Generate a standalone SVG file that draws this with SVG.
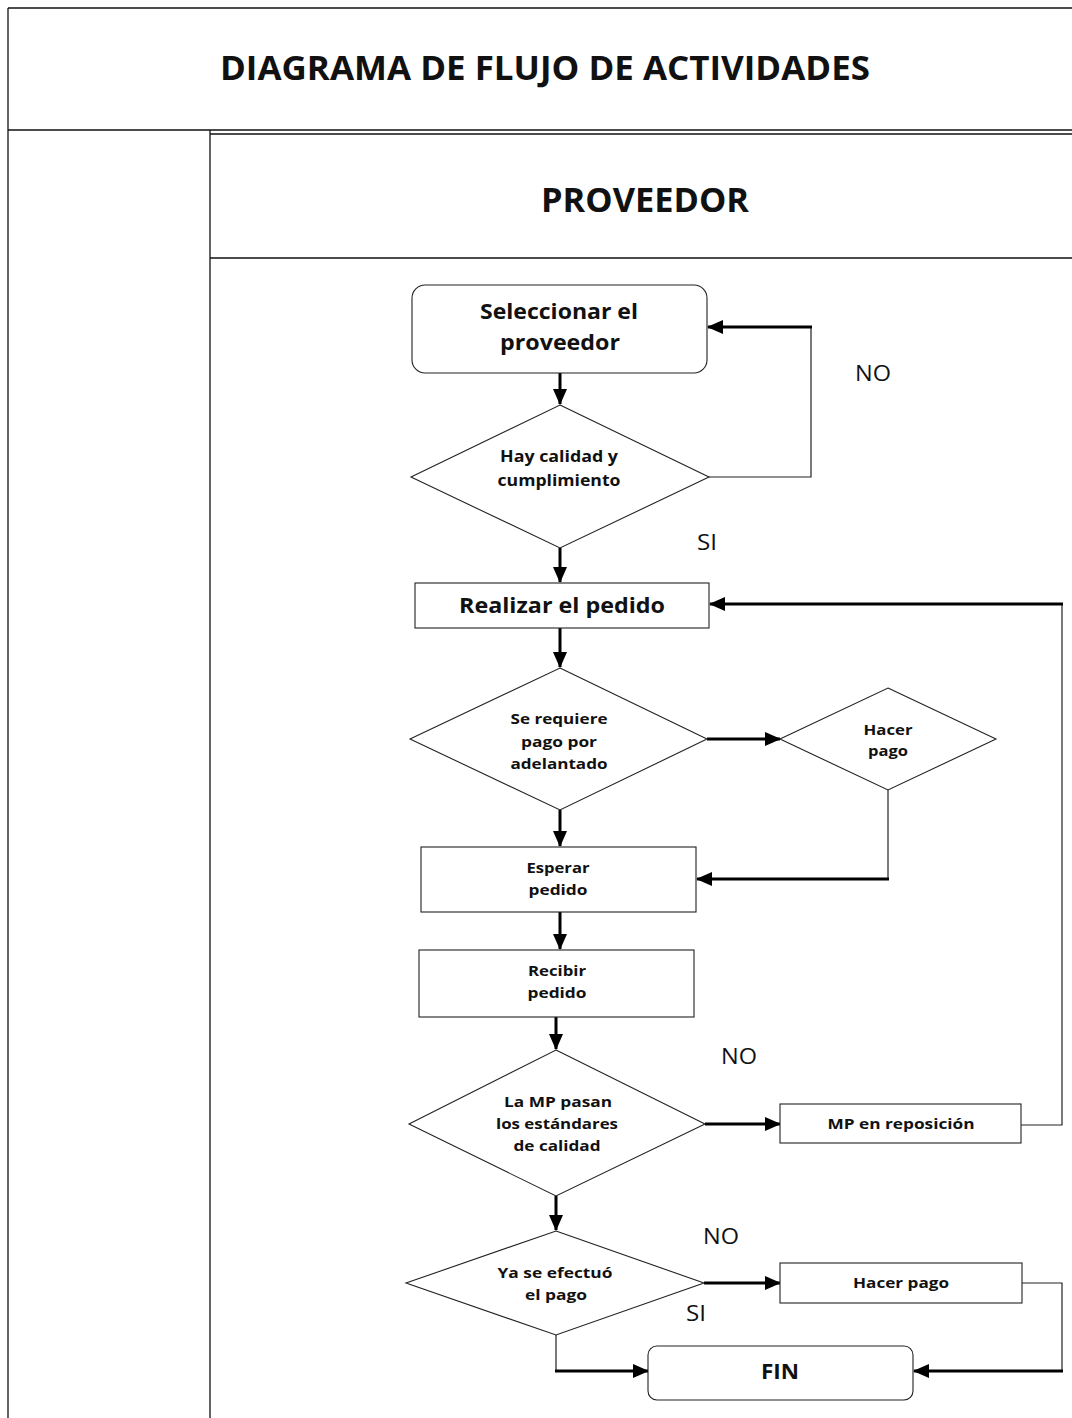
<svg xmlns="http://www.w3.org/2000/svg" width="1072" height="1418" viewBox="0 0 1072 1418">
<style>
.frame{stroke:#111;stroke-width:1.3;fill:none}
.node{fill:#fff;stroke:#222;stroke-width:1.1}
.t{font-family:"Open Sans","Liberation Sans",sans-serif;font-weight:bold;fill:#111;text-anchor:middle}
.lbl{font-family:"Open Sans","Liberation Sans",sans-serif;fill:#111;text-anchor:middle;font-size:21px}
.thick{stroke:#000;stroke-width:3;fill:none}
.thin{stroke:#222;stroke-width:1.2;fill:none}
</style>
<defs>
<marker id="ah" markerUnits="userSpaceOnUse" markerWidth="16" markerHeight="14" refX="15" refY="7" orient="auto">
<path d="M0,0 L16,7 L0,14 Z" fill="#000"/>
</marker>
</defs>
<rect width="1072" height="1418" fill="#fff"/>
<g id="frame">
<line class="frame" x1="8" y1="8" x2="1072" y2="8"/>
<line class="frame" x1="8" y1="8" x2="8" y2="1418"/>
<line class="frame" x1="8" y1="130" x2="1072" y2="130"/>
<line class="frame" x1="210" y1="134" x2="1072" y2="134"/>
<line class="frame" x1="210" y1="130" x2="210" y2="1418"/>
<line class="frame" x1="210" y1="258" x2="1072" y2="258"/>
<text class="t" x="545" y="80" font-size="34" textLength="650" lengthAdjust="spacingAndGlyphs">DIAGRAMA DE FLUJO DE ACTIVIDADES</text>
<text class="t" x="645" y="212" font-size="34" textLength="208" lengthAdjust="spacingAndGlyphs">PROVEEDOR</text>
</g>
<g id="connectors">
<line class="thick" x1="560" y1="373" x2="560" y2="404" marker-end="url(#ah)"/>
<polyline class="thin" points="709,477 811,477 811,327"/>
<line class="thick" x1="812" y1="327" x2="708" y2="327" marker-end="url(#ah)"/>
<line class="thick" x1="560" y1="548" x2="560" y2="582" marker-end="url(#ah)"/>
<line class="thick" x1="560" y1="628" x2="560" y2="667" marker-end="url(#ah)"/>
<line class="thick" x1="707" y1="739" x2="780" y2="739" marker-end="url(#ah)"/>
<polyline class="thin" points="888,790 888,879"/>
<line class="thick" x1="889" y1="879" x2="697" y2="879" marker-end="url(#ah)"/>
<line class="thick" x1="560" y1="810" x2="560" y2="846" marker-end="url(#ah)"/>
<line class="thick" x1="560" y1="912" x2="560" y2="949" marker-end="url(#ah)"/>
<line class="thick" x1="556" y1="1017" x2="556" y2="1049" marker-end="url(#ah)"/>
<line class="thick" x1="705" y1="1124" x2="780" y2="1124" marker-end="url(#ah)"/>
<polyline class="thin" points="1021,1125 1062,1125 1062,604"/>
<line class="thick" x1="1063" y1="604" x2="710" y2="604" marker-end="url(#ah)"/>
<line class="thick" x1="556" y1="1196" x2="556" y2="1230" marker-end="url(#ah)"/>
<line class="thick" x1="704" y1="1283" x2="780" y2="1283" marker-end="url(#ah)"/>
<polyline class="thin" points="1022,1283 1062,1283 1062,1371"/>
<line class="thick" x1="1063" y1="1371" x2="914" y2="1371" marker-end="url(#ah)"/>
<polyline class="thin" points="556,1335 556,1371"/>
<line class="thick" x1="555" y1="1371" x2="648" y2="1371" marker-end="url(#ah)"/>
<text class="lbl" x="873" y="381" textLength="36" lengthAdjust="spacingAndGlyphs">NO</text>
<text class="lbl" x="707" y="550" textLength="20" lengthAdjust="spacingAndGlyphs">SI</text>
<text class="lbl" x="739" y="1064" textLength="36" lengthAdjust="spacingAndGlyphs">NO</text>
<text class="lbl" x="721" y="1244" textLength="36" lengthAdjust="spacingAndGlyphs">NO</text>
<text class="lbl" x="696" y="1321" textLength="20" lengthAdjust="spacingAndGlyphs">SI</text>
</g>
<g id="n1">
<rect class="node" x="412" y="285" width="295" height="88" rx="13"/>
<text class="t" x="559" y="319" font-size="22" textLength="158" lengthAdjust="spacingAndGlyphs">Seleccionar el</text>
<text class="t" x="560" y="350" font-size="22" textLength="120" lengthAdjust="spacingAndGlyphs">proveedor</text>
</g>
<g id="n2">
<polygon class="node" points="560,405 709,477 560,548 411,477"/>
<text class="t" x="559" y="462" font-size="16" textLength="118" lengthAdjust="spacingAndGlyphs">Hay calidad y</text>
<text class="t" x="559" y="486" font-size="16" textLength="123" lengthAdjust="spacingAndGlyphs">cumplimiento</text>
</g>
<g id="n3">
<rect class="node" x="415" y="583" width="294" height="45"/>
<text class="t" x="562" y="613" font-size="22" textLength="206" lengthAdjust="spacingAndGlyphs">Realizar el pedido</text>
</g>
<g id="n4">
<polygon class="node" points="560,668 707,739 560,810 410,739"/>
<text class="t" x="559" y="724" font-size="15" textLength="97" lengthAdjust="spacingAndGlyphs">Se requiere</text>
<text class="t" x="559" y="747" font-size="15" textLength="76" lengthAdjust="spacingAndGlyphs">pago por</text>
<text class="t" x="559" y="769" font-size="15" textLength="97" lengthAdjust="spacingAndGlyphs">adelantado</text>
</g>
<g id="n5">
<polygon class="node" points="888,688 996,739 888,790 780,739"/>
<text class="t" x="888" y="735" font-size="15" textLength="49" lengthAdjust="spacingAndGlyphs">Hacer</text>
<text class="t" x="888" y="756" font-size="15" textLength="40" lengthAdjust="spacingAndGlyphs">pago</text>
</g>
<g id="n6">
<rect class="node" x="421" y="847" width="275" height="65"/>
<text class="t" x="558" y="873" font-size="15" textLength="63" lengthAdjust="spacingAndGlyphs">Esperar</text>
<text class="t" x="558" y="895" font-size="15" textLength="59" lengthAdjust="spacingAndGlyphs">pedido</text>
</g>
<g id="n7">
<rect class="node" x="419" y="950" width="275" height="67"/>
<text class="t" x="557" y="976" font-size="15" textLength="58" lengthAdjust="spacingAndGlyphs">Recibir</text>
<text class="t" x="557" y="998" font-size="15" textLength="59" lengthAdjust="spacingAndGlyphs">pedido</text>
</g>
<g id="n8">
<polygon class="node" points="556,1050 705,1124 556,1196 409,1124"/>
<text class="t" x="558" y="1107" font-size="15" textLength="108" lengthAdjust="spacingAndGlyphs">La MP pasan</text>
<text class="t" x="557" y="1129" font-size="15" textLength="122" lengthAdjust="spacingAndGlyphs">los estándares</text>
<text class="t" x="557" y="1151" font-size="15" textLength="87" lengthAdjust="spacingAndGlyphs">de calidad</text>
</g>
<g id="n9">
<rect class="node" x="780" y="1104" width="241" height="39"/>
<text class="t" x="901" y="1129" font-size="15" textLength="147" lengthAdjust="spacingAndGlyphs">MP en reposición</text>
</g>
<g id="n10">
<polygon class="node" points="556,1231 704,1283 556,1335 406,1283"/>
<text class="t" x="555" y="1278" font-size="15" textLength="115" lengthAdjust="spacingAndGlyphs">Ya se efectuó</text>
<text class="t" x="556" y="1300" font-size="15" textLength="62" lengthAdjust="spacingAndGlyphs">el pago</text>
</g>
<g id="n11">
<rect class="node" x="780" y="1263" width="242" height="40"/>
<text class="t" x="901" y="1288" font-size="15" textLength="96" lengthAdjust="spacingAndGlyphs">Hacer pago</text>
</g>
<g id="n12">
<rect class="node" x="648" y="1346" width="265" height="54" rx="9"/>
<text class="t" x="780" y="1379" font-size="22" textLength="38" lengthAdjust="spacingAndGlyphs">FIN</text>
</g>
</svg>
